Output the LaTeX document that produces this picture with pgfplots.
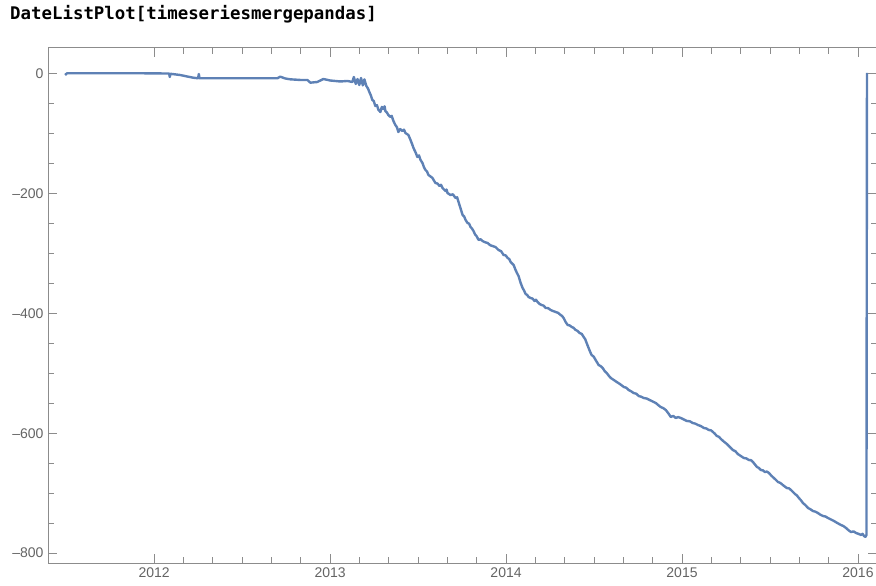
\documentclass[border=0pt]{standalone}
\usepackage{pgfplots}
\pgfplotsset{compat=1.18}
\usepackage{fontspec}
\setmainfont{Liberation Sans}
\newfontfamily\codefont{DejaVu Sans Mono}
\definecolor{mmablue}{RGB}{94,129,181}
\definecolor{framegray}{RGB}{140,140,140}
\definecolor{labelgray}{RGB}{100,100,100}

\begin{document}
\begin{tikzpicture}
\path[use as bounding box] (-48bp,-23bp) rectangle (828bp,563bp);
\node[anchor=west, inner sep=0pt] at (-38bp,549bp)
  {\fontsize{17.4bp}{20bp}\selectfont\codefont\bfseries DateListPlot[timeseriesmergepandas]};
\begin{axis}[
  scale only axis,
  width=829bp, height=515bp,
  at={(0,0)}, anchor=south west,
  xmin=2011.397, xmax=2016.108,
  ymin=-816.7, ymax=43.4,
  xtick={2012,2013,2014,2015,2016},
  xticklabels={2012,2013,2014,2015,2016},
  minor x tick num=5,
  ytick={-800,-600,-400,-200,0},
  yticklabels={\textendash800,\textendash600,\textendash400,\textendash200,0},
  minor y tick num=3,
  major tick length=9.5bp,
  minor tick length=6bp,
  tick align=inside,
  axis line style={framegray, line width=1bp},
  tick style={framegray, line width=1bp},
  ticklabel style={font=\fontsize{14bp}{16bp}\selectfont, text=labelgray},
  xticklabel style={yshift=-1bp},
  yticklabel style={xshift=-1bp},
  /pgf/number format/assume math mode=true,
]
\addplot[mmablue, line width=2.4bp, line join=round] coordinates {
(2011.494,-1.7) (2011.505,1.2) (2011.693,1.2) (2011.920,1.2) (2012.074,0.8)
(2012.085,0.8) (2012.089,-5) (2012.093,0.3) (2012.148,-1.7) (2012.188,-4.2)
(2012.222,-6.2) (2012.250,-7.2) (2012.254,0) (2012.258,-7.2) (2012.489,-7.2)
(2012.700,-7.2) (2012.717,-4.5) (2012.745,-7.5) (2012.774,-8.9) (2012.831,-10)
(2012.871,-10) (2012.888,-14.5) (2012.927,-13.4) (2012.962,-8.4) (2013.001,-10.9)
(2013.058,-12.5) (2013.098,-11.7) (2013.127,-13.4) (2013.135,-5) (2013.146,-16.7)
(2013.156,-8.4) (2013.166,-18.4) (2013.176,-6.7) (2013.186,-19) (2013.195,-9)
(2013.206,-20) (2013.215,-24) (2013.223,-30) (2013.232,-36) (2013.240,-43.4)
(2013.248,-45) (2013.257,-53.4) (2013.266,-52) (2013.275,-60) (2013.286,-63.5)
(2013.294,-55) (2013.303,-58.5) (2013.310,-54) (2013.314,-61.8) (2013.322,-64)
(2013.331,-68.5) (2013.343,-71.8) (2013.350,-70) (2013.360,-78.5) (2013.371,-85.2)
(2013.380,-89) (2013.388,-96.9) (2013.398,-92) (2013.411,-95.2) (2013.420,-93)
(2013.428,-98.5) (2013.445,-101.9) (2013.457,-110.2) (2013.466,-117) (2013.474,-123.6)
(2013.486,-131) (2013.496,-138.6) (2013.505,-136) (2013.514,-143.6) (2013.525,-148.6)
(2013.534,-156) (2013.542,-160.3) (2013.551,-163) (2013.559,-168.7) (2013.570,-171)
(2013.582,-173.7) (2013.590,-178) (2013.599,-182) (2013.610,-183) (2013.622,-187)
(2013.630,-185) (2013.639,-190.4) (2013.656,-195.4) (2013.662,-193) (2013.667,-198.7)
(2013.684,-202.1) (2013.698,-201) (2013.713,-207.1) (2013.722,-206) (2013.730,-213.8)
(2013.742,-225) (2013.753,-235.5) (2013.762,-238) (2013.770,-243.8) (2013.781,-248.8)
(2013.790,-250) (2013.798,-255.5) (2013.806,-258) (2013.815,-262.2) (2013.824,-268)
(2013.832,-270.6) (2013.844,-277.2) (2013.855,-276) (2013.866,-278.9) (2013.880,-281)
(2013.895,-282.2) (2013.910,-286) (2013.923,-287.3) (2013.940,-289) (2013.957,-293.9)
(2013.972,-296) (2013.986,-302.3) (2013.998,-303) (2014.009,-307.3) (2014.018,-309)
(2014.026,-314) (2014.043,-319) (2014.054,-327.3) (2014.063,-333) (2014.071,-337.4)
(2014.083,-349) (2014.094,-357.4) (2014.103,-362) (2014.111,-367.4) (2014.120,-369)
(2014.128,-372.4) (2014.139,-374.1) (2014.150,-375) (2014.162,-379.1) (2014.170,-377)
(2014.179,-380.8) (2014.190,-384) (2014.202,-385.8) (2014.214,-387) (2014.225,-390.8)
(2014.239,-391) (2014.253,-394.1) (2014.268,-396) (2014.282,-397.5) (2014.296,-399)
(2014.310,-402.5) (2014.318,-404) (2014.327,-407.5) (2014.338,-414) (2014.350,-419.2)
(2014.362,-420) (2014.373,-422.5) (2014.384,-424) (2014.395,-427.5) (2014.406,-429)
(2014.418,-432.6) (2014.430,-434) (2014.441,-439.2) (2014.450,-443) (2014.458,-449.3)
(2014.469,-457.6) (2014.478,-464) (2014.486,-469.3) (2014.498,-472) (2014.509,-477.7)
(2014.518,-482) (2014.526,-486) (2014.538,-488) (2014.549,-491) (2014.560,-496)
(2014.572,-499.4) (2014.584,-504) (2014.595,-507.7) (2014.612,-511) (2014.629,-514.4)
(2014.648,-518) (2014.669,-522.7) (2014.683,-524) (2014.697,-527.8) (2014.711,-530)
(2014.725,-532.8) (2014.740,-534) (2014.754,-537.8) (2014.768,-539) (2014.782,-541.1)
(2014.799,-542) (2014.816,-544.5) (2014.834,-547) (2014.851,-549.5) (2014.865,-553)
(2014.879,-556.2) (2014.893,-558) (2014.908,-561.2) (2014.925,-567.8) (2014.936,-572.8)
(2014.950,-571) (2014.964,-574.5) (2014.978,-573) (2014.993,-574.5) (2015.010,-577)
(2015.027,-579.5) (2015.044,-580) (2015.061,-582.9) (2015.076,-584) (2015.090,-586.2)
(2015.107,-588) (2015.124,-591.2) (2015.138,-592) (2015.152,-594.6) (2015.164,-595)
(2015.176,-597.9) (2015.187,-601) (2015.198,-604.6) (2015.210,-606) (2015.221,-609.6)
(2015.238,-614) (2015.255,-618) (2015.272,-623) (2015.289,-628) (2015.303,-630)
(2015.317,-634.7) (2015.334,-638) (2015.351,-641.3) (2015.365,-642) (2015.380,-644.7)
(2015.392,-645) (2015.403,-648) (2015.414,-652) (2015.426,-656.4) (2015.437,-658)
(2015.448,-661.4) (2015.460,-662) (2015.471,-664.8) (2015.482,-664) (2015.494,-666.4)
(2015.508,-671) (2015.522,-674.8) (2015.534,-678) (2015.545,-681.4) (2015.559,-683)
(2015.573,-686.5) (2015.584,-689) (2015.596,-691.5) (2015.608,-692) (2015.619,-694.8)
(2015.630,-698) (2015.642,-701.5) (2015.653,-704) (2015.664,-708.1) (2015.676,-712)
(2015.687,-716.5) (2015.701,-720) (2015.716,-724.8) (2015.730,-727) (2015.744,-729.9)
(2015.758,-731) (2015.772,-733.2) (2015.786,-736) (2015.801,-738.2) (2015.815,-739)
(2015.829,-741.5) (2015.846,-744) (2015.863,-746.5) (2015.883,-750) (2015.903,-753.2)
(2015.917,-755) (2015.932,-758.2) (2015.946,-762) (2015.960,-764.9) (2015.975,-764)
(2015.989,-766.6) (2016.003,-768) (2016.017,-769.9) (2016.026,-768) (2016.034,-771.6)
(2016.042,-773) (2016.048,-770) (2016.051,2)
};
\end{axis}
\end{tikzpicture}
\end{document}
